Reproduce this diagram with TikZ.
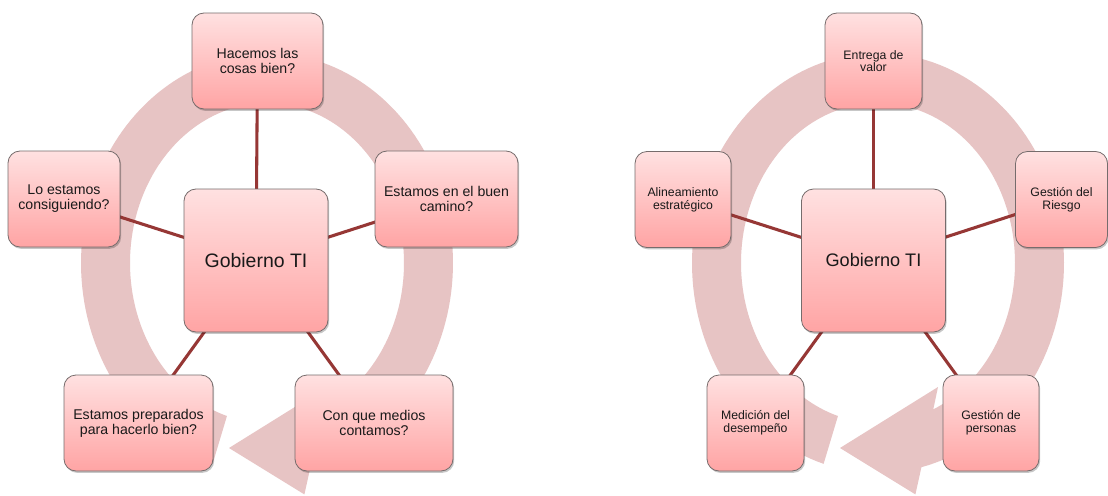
\documentclass[tikz,border=0pt]{standalone}
\usepackage{fontspec}
\setmainfont{Liberation Sans}
\usetikzlibrary{shadows}

\definecolor{ringpink}{RGB}{231,196,196}
\definecolor{linkred}{RGB}{150,55,53}
\definecolor{boxtop}{RGB}{255,225,225}
\definecolor{boxbot}{RGB}{255,164,164}
\definecolor{boxline}{RGB}{118,108,108}
\definecolor{txt}{RGB}{25,25,25}

\pgfdeclarelayer{ring}
\pgfdeclarelayer{links}
\pgfsetlayers{ring,links,main}

\tikzset{
  box/.style={rectangle, rounded corners=9pt, draw=boxline, line width=0.6pt,
    top color=boxtop, bottom color=boxbot, minimum height=72pt, inner sep=2pt,
    align=center, text=txt,
    drop shadow={shadow xshift=0.9pt, shadow yshift=-1.4pt, opacity=0.22, fill=black}},
  bigq/.style={box, font=\fontsize{10.6}{11.4}\selectfont},
  smallq/.style={box, font=\fontsize{9.2}{9.5}\selectfont},
  hub/.style={box, minimum width=108pt, minimum height=107.25pt},
  link/.style={draw=linkred, line width=2.3pt},
  ringfill/.style={fill=ringpink}
}

\begin{document}
\begin{tikzpicture}[x=0.75pt, y=-0.75pt]
  \useasboundingbox (0,0) rectangle (1108,496);

  % white page underneath everything
  \begin{pgfonlayer}{ring}
    \fill[white] (0,0) rectangle (1108,496);
  \end{pgfonlayer}

  % circular arrow behind each cycle (left one, then a copy shifted right)
  \begin{pgfonlayer}{ring}
    \foreach \dx in {0,611} {
      \begin{scope}[shift={(\dx,0)}]
        \fill[ringfill]
          plot[samples=160, domain=107:436.5] ({267+186*cos(\x)},{263+210*sin(\x)})
          -- (304.4,494.4) -- (229,448) -- (327,387)
          -- plot[samples=160, domain=426.2:107] ({267+137*cos(\x)},{263+160*sin(\x)})
          -- cycle;
      \end{scope}
    }
  \end{pgfonlayer}

  % left cycle: questions
  \node[hub, font=\fontsize{14.6}{16}\selectfont] (a0) at (256,260.5) {Gobierno TI};
  \node[bigq, minimum width=98.25pt] (a1) at (257.5,61) {Hacemos las\\cosas bien?};
  \node[bigq, minimum width=107.25pt] (a2) at (446.5,199) {Estamos en el buen\\camino?};
  \node[bigq, minimum width=118.5pt] (a3) at (374,423) {Con que medios\\contamos?};
  \node[bigq, minimum width=111.75pt] (a4) at (138.5,423) {Estamos preparados\\para hacerlo bien?};
  \node[bigq, minimum width=84pt] (a5) at (64,199) {Lo estamos\\consiguiendo?};

  % right cycle: governance areas
  \node[hub, font=\fontsize{13.6}{15}\selectfont] (b0) at (873.5,260.5) {Gobierno TI};
  \node[smallq, minimum width=72.75pt] (b1) at (873.5,61) {Entrega de\\valor};
  \node[smallq, minimum width=69pt] (b2) at (1061.5,199.5) {Gestión del\\Riesgo};
  \node[smallq, minimum width=72pt] (b3) at (991,423) {Gestión de\\personas};
  \node[smallq, minimum width=72.75pt] (b4) at (755.5,423) {Medición del\\desempeño};
  \node[smallq, minimum width=72pt] (b5) at (683,199.5) {Alineamiento\\estratégico};

  % spokes from each hub to its satellites
  \begin{pgfonlayer}{links}
    \foreach \n in {a1,a2,a3,a4,a5} \draw[link] (a0.center) -- (\n.center);
    \foreach \n in {b1,b2,b3,b4,b5} \draw[link] (b0.center) -- (\n.center);
  \end{pgfonlayer}
\end{tikzpicture}
\end{document}
